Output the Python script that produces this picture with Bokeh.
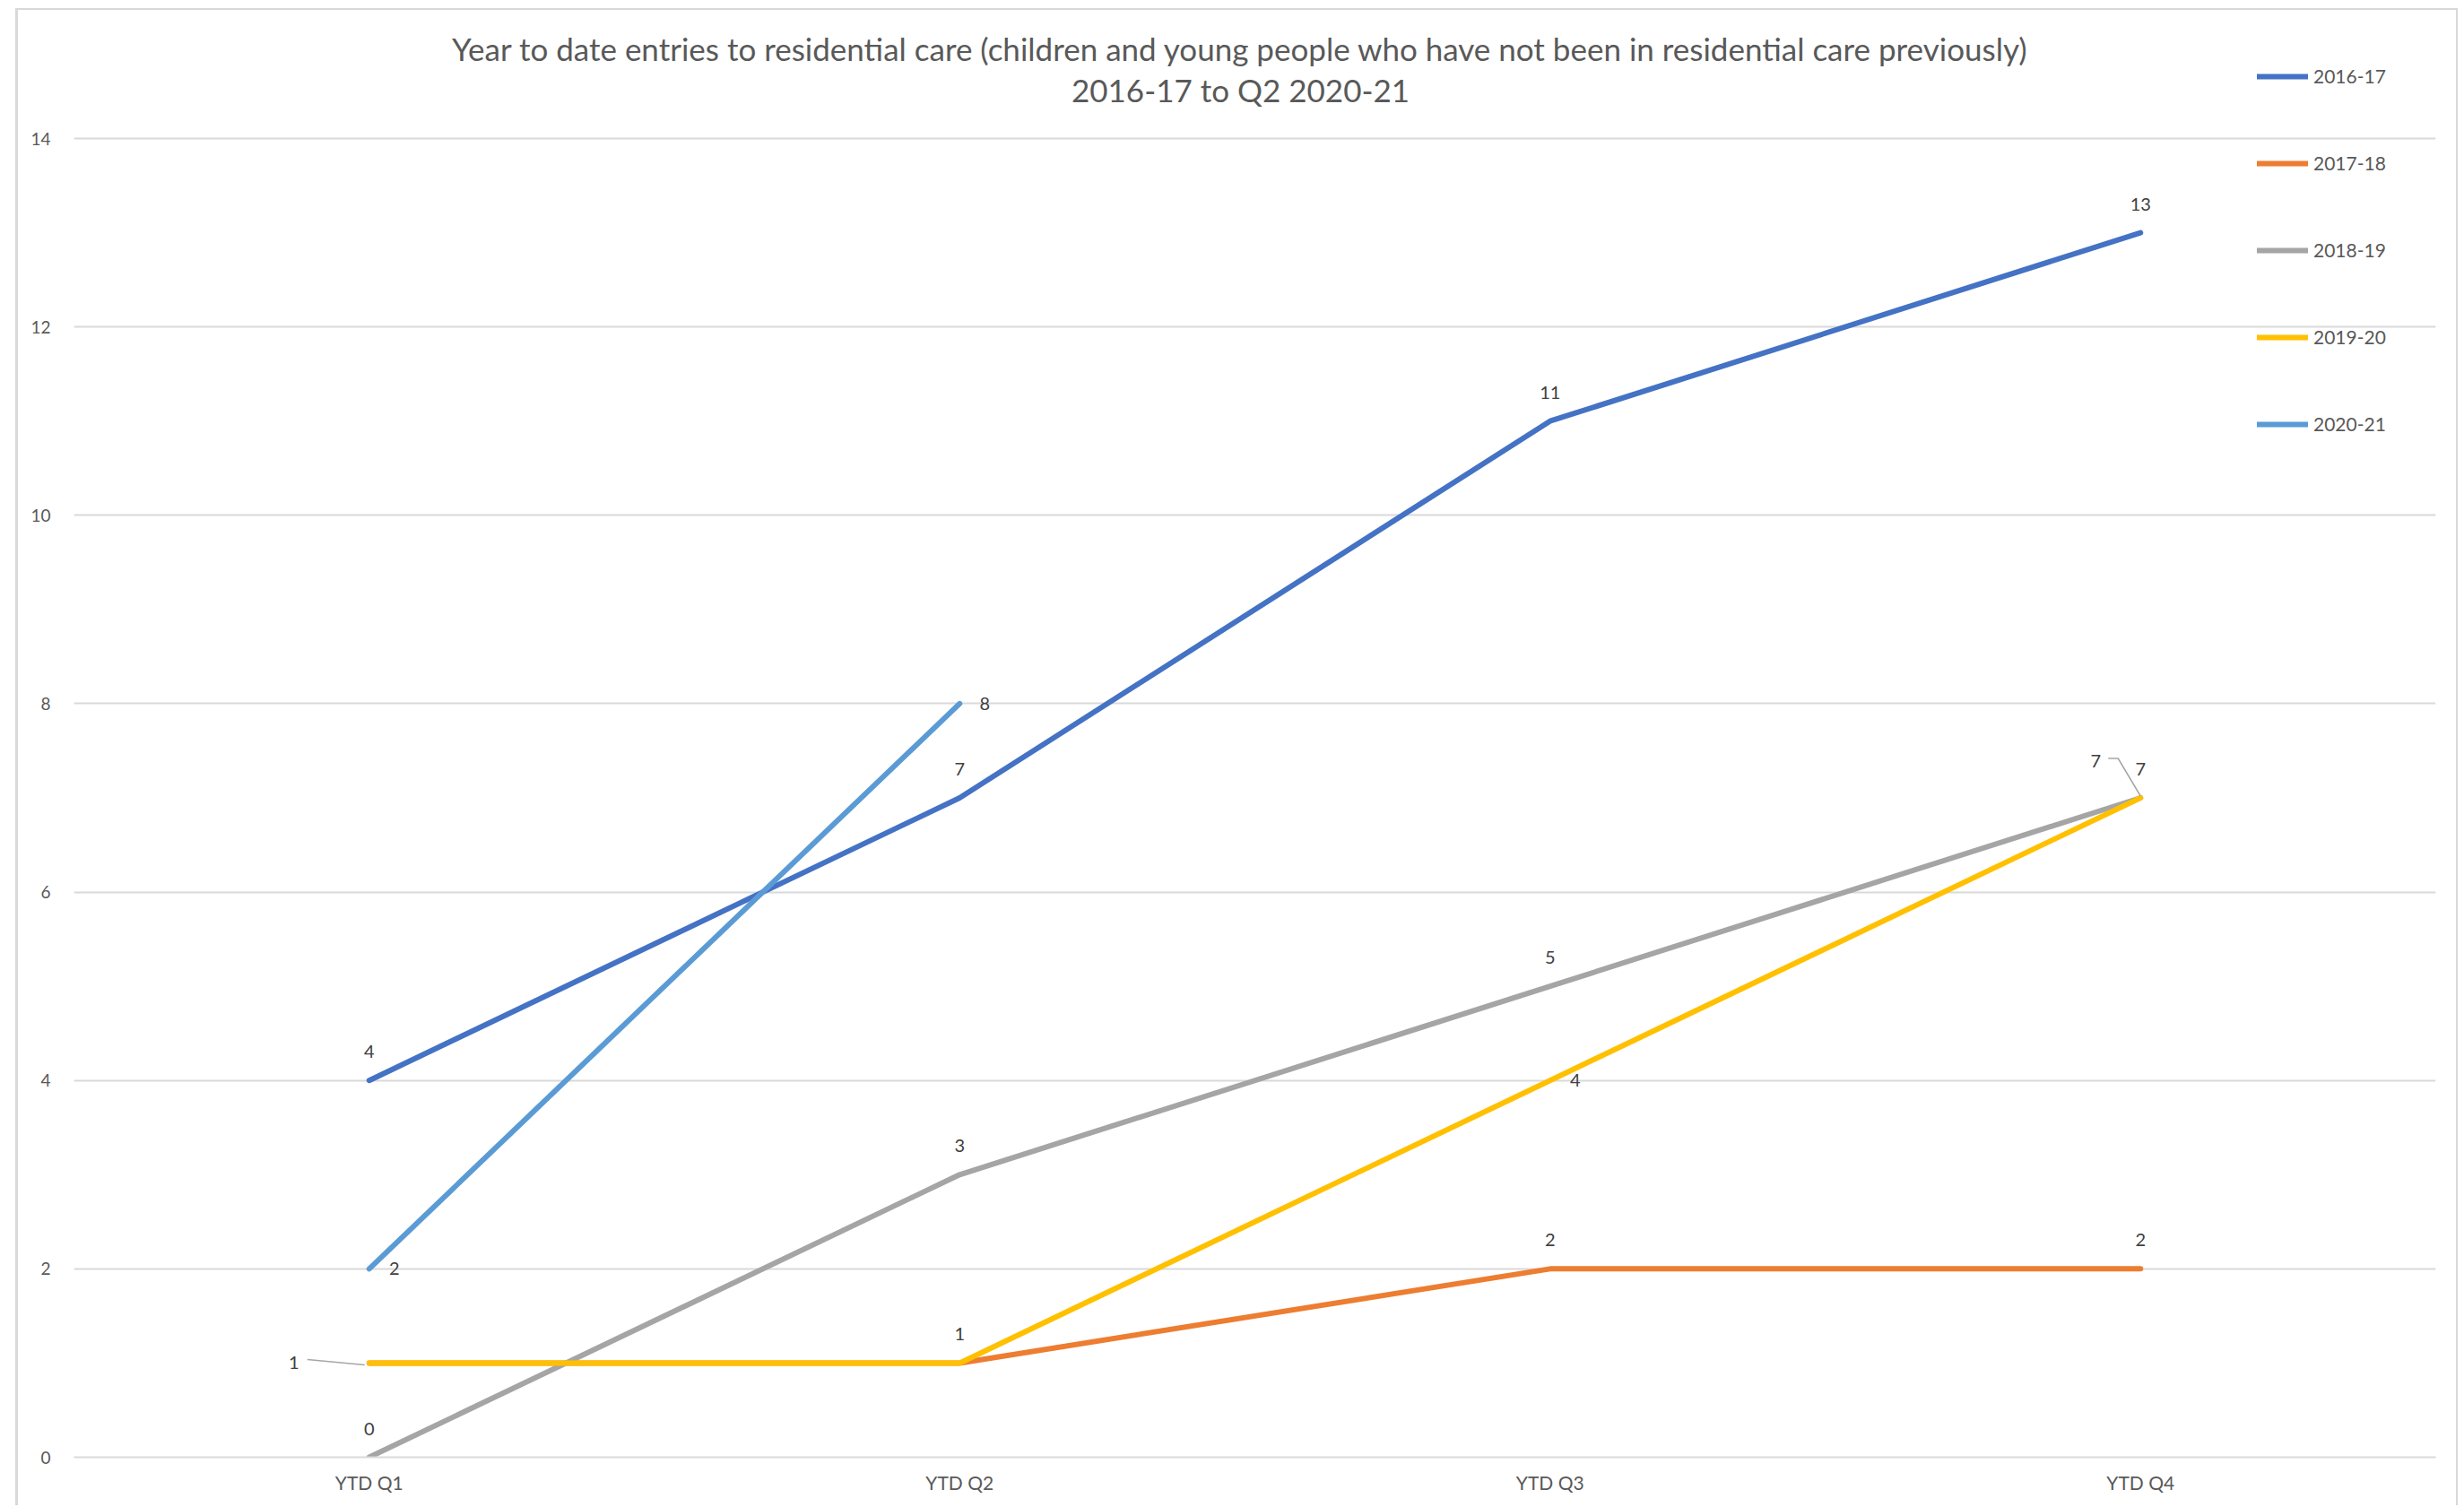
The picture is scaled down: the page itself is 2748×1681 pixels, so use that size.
from bokeh.plotting import figure
from bokeh.models import ColumnDataSource, LabelSet, Label, Legend, LegendItem, FactorRange, Range1d, FixedTicker
from bokeh.core.properties import value
from bokeh.embed import file_html
from bokeh.resources import INLINE

# ---- data ----
quarters = ["YTD Q1", "YTD Q2", "YTD Q3", "YTD Q4"]
series_names = ["2016-17", "2017-18", "2018-19", "2019-20", "2020-21"]
v_2016_17 = [4, 7, 11, 13]
v_2017_18 = [1, 1, 2, 2]
v_2018_19 = [0, 3, 5, 7]
v_2019_20 = [1, 1, 4, 7]
v_2020_21 = [2, 8]
y_ticks = [0, 2, 4, 6, 8, 10, 12, 14]
title_line1 = "Year to date entries to residential care (children and young people who have not been in residential care previously)"
title_line2 = "2016-17 to Q2 2020-21"

series_values = [v_2016_17, v_2017_18, v_2018_19, v_2019_20, v_2020_21]

# ---- style ----
colors = ["#4472C4", "#ED7D31", "#A5A5A5", "#FFC000", "#5B9BD5"]
FONT = "Lato"
TXT = "#595959"
BORDER = "#D9D9D9"
# label placement per series point: 'a' above, 'r' right, 'l' left with leader, 'll' upper-left with leader
placements = [
    ["a", "a", "a", "a"],
    [None, "a", "a", "a"],
    ["a", "a", "a", "ll"],
    ["l", None, "r", "a"],
    ["r", "r"],
]
offsets = {"a": (0, 32), "r": (28, 0), "l": (-84, 0), "ll": (-50, 41)}

# layout geometry in page px
CX0, CY0 = 20, 11             # canvas origin on the page (inside chart border)
PAGE_FRAME_L, PAGE_FRAME_R = 82, 2716
PAGE_Y14, PAGE_Y0 = 154, 1625
W = 2744 - CX0
H = 1681 - CY0
FRAME_LEFT = PAGE_FRAME_L - CX0
FRAME_RIGHT_PAD = W - (PAGE_FRAME_R - CX0)
FRAME_BOTTOM = PAGE_Y0 - CY0
TOP_GAP = PAGE_Y14 - CY0
px_per_val = (PAGE_Y0 - PAGE_Y14) / 14.0
y_top = 14 + TOP_GAP / px_per_val
px_per_cat = (PAGE_FRAME_R - PAGE_FRAME_L) / len(quarters)

p = figure(x_range=FactorRange(*quarters, range_padding=0), y_range=Range1d(0, y_top),
           width=W, height=H, output_backend="svg", toolbar_location=None,
           min_border_left=FRAME_LEFT, min_border_right=FRAME_RIGHT_PAD, min_border_top=0,
           min_border_bottom=H - FRAME_BOTTOM,
           background_fill_color="white", border_fill_color="white")
p.styles = {"margin-left": "17px", "margin-top": "9px",
            "border-left": f"3px solid {BORDER}", "border-top": f"2px solid {BORDER}",
            "border-right": f"2px solid {BORDER}"}
p.outline_line_color = None

p.yaxis.ticker = FixedTicker(ticks=y_ticks)
p.yaxis.axis_line_color = None
p.yaxis.major_tick_line_color = None
p.yaxis.minor_tick_line_color = None
p.yaxis.major_label_standoff = 20
p.xaxis.axis_line_color = BORDER
p.xaxis.axis_line_width = 2
p.xaxis.major_tick_line_color = None
p.xaxis.minor_tick_line_color = None
p.xaxis.major_label_standoff = 9
p.xaxis.major_label_text_font_size = "21px"
p.yaxis.major_label_text_font_size = "19px"
for ax in (p.xaxis[0], p.yaxis[0]):
    ax.major_label_text_font = FONT
    ax.major_label_text_color = TXT
p.xgrid.grid_line_color = None
p.ygrid.grid_line_color = BORDER
p.ygrid.grid_line_width = 2

# title (two centred lines), page y of each line centre
title_x = len(quarters) / 2 - 16 / px_per_cat
for txt, ypx in ((title_line1, 53), (title_line2, 99)):
    p.add_layout(Label(x=title_x, y=14 + (PAGE_Y14 - ypx) / px_per_val, text=txt,
                       text_align="center", text_baseline="middle", text_font=FONT,
                       text_font_size="35px", text_color=TXT))

items = []
lx, ly, lt, lxo, lyo = [], [], [], [], []
for name, vals, col, plc in zip(series_names, series_values, colors, placements):
    xs = quarters[:len(vals)]
    r = p.line(xs, vals, line_color=col, line_width=6, line_cap="round", line_join="round")
    items.append(LegendItem(label=name, renderers=[r]))
    for q, v, pl in zip(xs, vals, plc):
        if pl is None:
            continue
        lx.append(q); ly.append(v); lt.append(str(v))
        lxo.append(offsets[pl][0]); lyo.append(offsets[pl][1])

# leader lines (px offsets converted to category / value units)
def lead(qi, v, pts):
    xs = [qi + 0.5 + dx / px_per_cat for dx, dy in pts]
    ys = [v + dy / px_per_val for dx, dy in pts]
    p.line(xs, ys, line_color="#A6A6A6", line_width=1.5)

lead(0, v_2019_20[0], [(-69, 4), (-5, -2)])
lead(3, v_2018_19[3], [(-36, 44), (-25, 44), (0, 2)])

src = ColumnDataSource(dict(x=lx, y=ly, t=lt, xo=lxo, yo=lyo))
labels = LabelSet(x="x", y="y", text="t", x_offset="xo", y_offset="yo", source=src,
                  text_align="center", text_baseline="middle", text_font=value(FONT),
                  text_font_size="20px", text_color="#404040")
p.add_layout(labels)

# legend: first item centre at page y 89, item pitch 96 px
legend = Legend(items=items, location=(2517 - PAGE_FRAME_L, PAGE_Y0 - (89 + 4 * 96 + 12)),
                background_fill_alpha=0, border_line_alpha=0, padding=0, margin=0, spacing=72,
                glyph_width=57, glyph_height=24, label_height=24, label_standoff=6,
                label_text_font=FONT, label_text_font_size="21px", label_text_color=TXT)
p.add_layout(legend)

open("out.html", "w").write(file_html(p, INLINE))
